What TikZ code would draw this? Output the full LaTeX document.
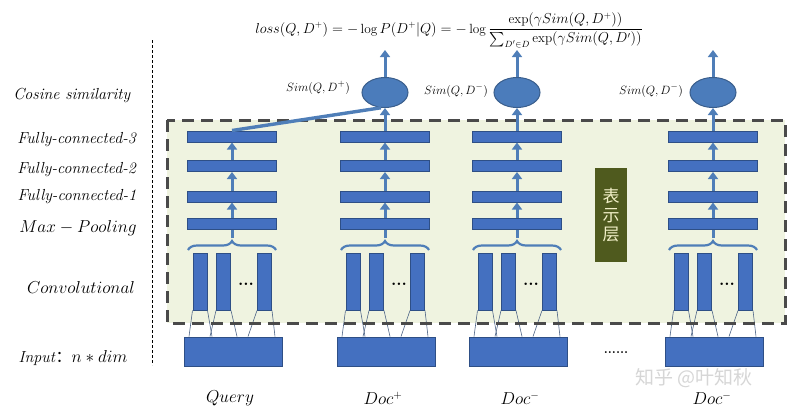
\documentclass[tikz,border=0pt]{standalone}
\usepackage{amsmath}
\usepackage{fontspec}
\newfontfamily\cjk{Noto Sans CJK SC}
\usetikzlibrary{arrows.meta,decorations.pathreplacing,shapes.geometric}
\definecolor{barblue}{HTML}{4470C0}
\definecolor{barline}{HTML}{2E4F86}
\definecolor{arrowblue}{HTML}{4F7EB8}
\definecolor{simfill}{HTML}{4B7CBB}
\definecolor{simline}{HTML}{3A5E8C}
\definecolor{boxbg}{HTML}{EFF3E0}
\definecolor{boxdash}{HTML}{4A4A4A}
\definecolor{olivebox}{HTML}{4F5A1E}
\definecolor{olivetext}{HTML}{F2F0C8}
\definecolor{wmgray}{HTML}{D6D6D6}
\definecolor{fanline}{HTML}{4E6586}
\begin{document}
\begin{tikzpicture}[x=1pt,y=-1pt,
  bar/.style={draw=barline,fill=barblue,line width=1pt,minimum width=89pt,minimum height=11pt,inner sep=0pt},
  convbar/.style={draw=barline,fill=barblue,line width=1pt,minimum width=14pt,minimum height=57pt,inner sep=0pt},
  inbox/.style={draw=barline,fill=barblue,line width=1pt,minimum width=98pt,minimum height=29pt,inner sep=0pt},
  simnode/.style={ellipse,draw=simline,fill=simfill,line width=1pt,minimum width=46pt,minimum height=30pt,inner sep=0pt},
  uparrow/.style={draw=arrowblue,line width=3pt,-{Triangle[length=7pt,width=10pt]}},
  stem/.style={draw=arrowblue,line width=3pt},
  fan/.style={draw=fanline,line width=0.6pt},
  lefttext/.style={font=\fontsize{16}{18}\selectfont,inner sep=0pt},
  simlabel/.style={font=\fontsize{12.5}{14}\selectfont,inner sep=0pt},
  doclabel/.style={font=\fontsize{16}{18}\selectfont,inner sep=0pt},
  dotstext/.style={inner sep=0pt,font=\bfseries\fontsize{17}{17}\selectfont},
]
\useasboundingbox (0,0) rectangle (788,413);
\fill[white] (0,0) rectangle (788,413);
% representation frame background
\fill[boxbg] (167,120) rectangle (785,323);
% separator
\draw[black,line width=0.8pt,dash pattern=on 3pt off 2pt] (152,40) -- (152,365);

% left labels
\node[lefttext] (lcos) at (72,95) {\textit{Cosine similarity}};
\node[lefttext] (lfc3) at (77,140) {\textit{Fully-connected-3}};
\node[lefttext] (lfc2) at (77,170) {\textit{Fully-connected-2}};
\node[lefttext] (lfc1) at (77,197) {\textit{Fully-connected-1}};
\node[lefttext] (lmp) at (78,228) {$Max-Pooling$};
\node[lefttext] (lconv) at (81,287) {$Convolutional$};
\node[lefttext] (lin) at (73,358) {\textit{Input}{\cjk ：}$n*dim$};

% columns
\foreach \c/\n in {232/q,385/p,517/m,713/n}{
  \node[bar] (\n-fc3) at (\c,136.5) {};
  \node[bar] (\n-fc2) at (\c,166) {};
  \node[bar] (\n-fc1) at (\c,196.5) {};
  \node[bar] (\n-mp) at (\c,223.5) {};
  \coordinate (\n-br) at (\c,238);
  \draw[arrowblue,line width=2.2pt,decorate,decoration={brace,amplitude=9pt}] (\c-44,250) -- (\c+44,250);
  \draw[stem] (\n-br) -- (\n-mp.south);
  \draw[uparrow] (\n-mp.north) -- (\n-fc1.south);
  \draw[uparrow] (\n-fc1.north) -- (\n-fc2.south);
  \draw[uparrow] (\n-fc2.north) -- (\n-fc3.south);
  \node[convbar] (\n-c1) at (\c-32,281.5) {};
  \node[convbar] (\n-c2) at (\c-8.5,281.5) {};
  \node[convbar] (\n-c3) at (\c+32.5,281.5) {};
  \node[dotstext] (\n-dots) at (\c+14,284) {...};
  \node[inbox] (\n-in) at (\c+1,351.5) {};
  \draw[fan] (\n-c1.south west) -- ([xshift=-44pt]\n-in.north);
  \draw[fan] (\n-c1.south east) -- ([xshift=-21pt]\n-in.north);
  \draw[fan] (\n-c2.south west) -- ([xshift=-23pt]\n-in.north);
  \draw[fan] (\n-c2.south east) -- ([xshift=4pt]\n-in.north);
  \draw[fan] (\n-c3.south west) -- ([xshift=15pt]\n-in.north);
  \draw[fan] (\n-c3.south east) -- ([xshift=42pt]\n-in.north);
}
% frame border
\draw[boxdash,line width=3pt,dash pattern=on 12pt off 7pt] (167,120) rectangle (785,323);

% similarity nodes
\foreach \c/\n in {385/p,517/m,713/n}{
  \node[simnode] (\n-sim) at (\c,92.5) {};
  \coordinate (\n-top) at (\c,50);
  \draw[uparrow] (\n-fc3.north) -- (\n-sim.south);
  \draw[uparrow] (\n-sim.north) -- (\n-top);
}
\draw[stem,line width=3.4pt] (q-fc3.north) -- (p-sim.255);

\node[simlabel] (sp) at (318,88) {$Sim(Q,D^{+})$};
\node[simlabel] (sm1) at (456,91) {$Sim(Q,D^{-})$};
\node[simlabel] (sm2) at (651,91) {$Sim(Q,D^{-})$};

% loss
\node[inner sep=0pt,font=\fontsize{13.3}{15}\selectfont] (loss) at (449,30)
  {$loss(Q,D^{+})=-\log P(D^{+}|Q)=-\log\dfrac{\exp(\gamma Sim(Q,D^{+}))}{\sum\nolimits_{D'\in D}\exp(\gamma Sim(Q,D'))}$};

% representation layer tag
\node[fill=olivebox,minimum width=32pt,minimum height=94pt,inner sep=0pt,text=olivetext,
      font=\cjk\fontsize{17}{19}\selectfont,align=center] (rep) at (611,215) {表\\示\\层};

% bottom labels
\node[doclabel] (lq) at (230,398) {$Query$};
\node[doclabel] (lp) at (383,398) {$Doc^{+}$};
\node[doclabel] (lm1) at (520,398) {$Doc^{-}$};
\node[doclabel] (lm2) at (712,398) {$Doc^{-}$};
\node[dotstext,font=\bfseries\fontsize{13}{13}\selectfont] (more) at (616,353) {......};

% watermark
\node[inner sep=0pt,text=wmgray,font=\cjk\fontsize{19}{21}\selectfont] (wm) at (694,378) {知乎 @叶知秋};
\end{tikzpicture}
\end{document}
